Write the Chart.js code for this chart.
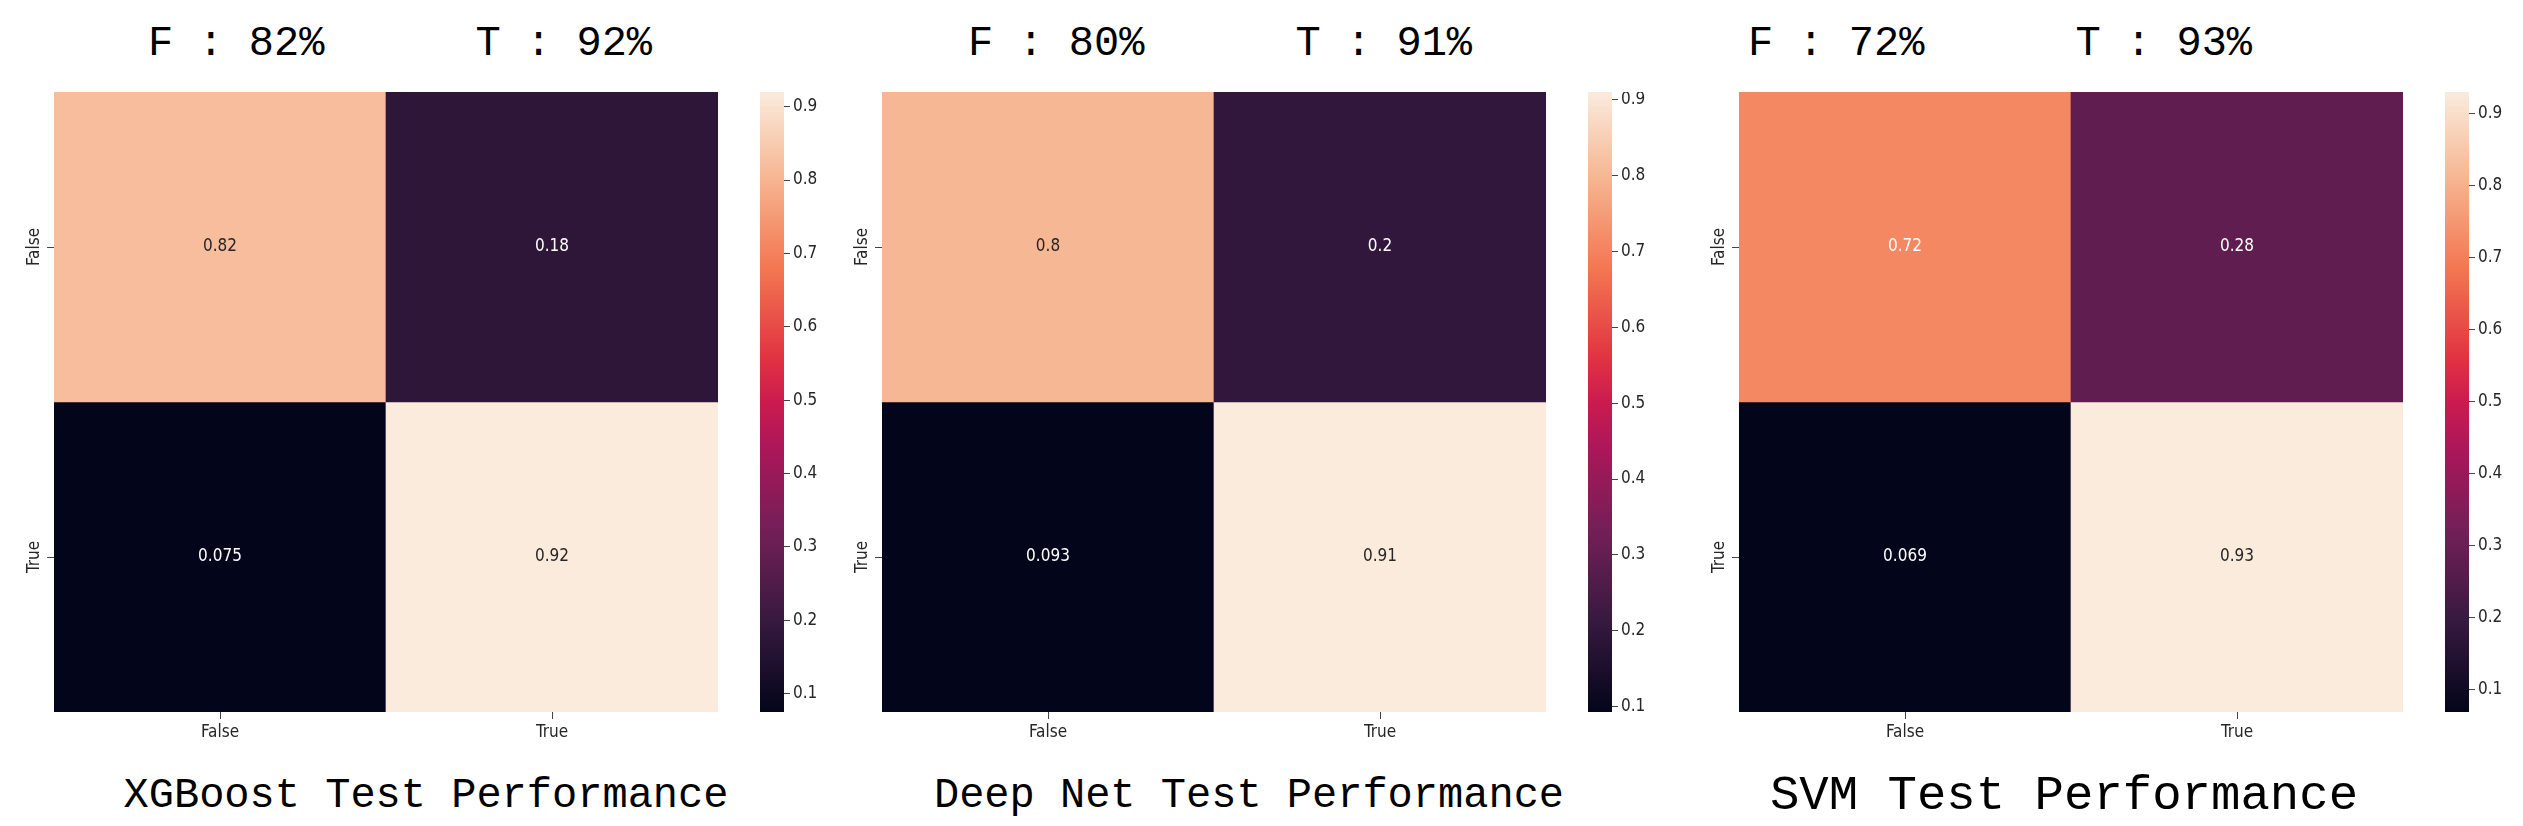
<!DOCTYPE html>
<html>
<head>
<meta charset="utf-8">
<script src="https://cdn.jsdelivr.net/npm/chart.js@4.4.1/dist/chart.umd.min.js"></script>
<style>
  body { margin: 0; background: #fff; width: 2523px; height: 826px; position: relative; overflow: hidden; }
  .box { position: absolute; }
  .title {
    position: absolute;
    font-family: "Liberation Mono", "DejaVu Sans Mono", monospace;
    font-size: 42px;
    line-height: 1;
    color: #000;
    white-space: pre;
    transform: translate(-50%, -50%);
  }
</style>
</head>
<body>
<script>
// --- Data ---
const classLabels = ['False', 'True'];
const modelNames = ['XGBoost', 'Deep Net', 'SVM'];
const xgbValues = [[0.82, 0.18], [0.075, 0.92]];
const deepNetValues = [[0.8, 0.2], [0.093, 0.91]];
const svmValues = [[0.72, 0.28], [0.069, 0.93]];
const colorbarTicks = [0.1, 0.2, 0.3, 0.4, 0.5, 0.6, 0.7, 0.8, 0.9];

// seaborn "rocket" colormap, sampled stops
const rocketStops = [
    [0.0, [3, 5, 26]],
    [0.143, [53, 25, 62]],
    [0.286, [112, 31, 87]],
    [0.429, [173, 23, 89]],
    [0.5, [203, 27, 79]],
    [0.571, [225, 51, 66]],
    [0.714, [243, 118, 81]],
    [0.857, [246, 180, 143]],
    [1.0, [250, 235, 221]]
];

// Layout of each panel (pixels)
const panelLayout = [
    { heatLeft: 54, cbLeft: 760, topCenter: 400, bottomCenter: 426, bottomSize: 42 },
    { heatLeft: 882, cbLeft: 1588, topCenter: 1220, bottomCenter: 1249, bottomSize: 42 },
    { heatLeft: 1739, cbLeft: 2445, topCenter: 2000, bottomCenter: 2064, bottomSize: 49 }
];
const heatTop = 92, heatW = 664, heatH = 620;
const yAxisW = 40, xAxisH = 50, cbW = 24, cbAxisW = 60;
const topTitleY = 44, bottomTitleY = 796;

const tickFont = { family: '"DejaVu Sans Condensed", "DejaVu Sans", sans-serif', size: 17 };
const tickColor = '#262626';

function rocketRgb(t) {
    t = Math.max(0, Math.min(1, t));
    for (let i = 1; i < rocketStops.length; i++) {
        const [p1, c1] = rocketStops[i];
        const [p0, c0] = rocketStops[i - 1];
        if (t <= p1) {
            const f = (t - p0) / (p1 - p0);
            return c0.map((c, k) => Math.round(c + (c1[k] - c) * f));
        }
    }
    return rocketStops[rocketStops.length - 1][1];
}
const rgbStr = c => `rgb(${c[0]},${c[1]},${c[2]})`;
const luminance = c => {
    const l = c.map(v => { v /= 255; return v <= 0.03928 ? v / 12.92 : Math.pow((v + 0.055) / 1.055, 2.4); });
    return 0.2126 * l[0] + 0.7152 * l[1] + 0.0722 * l[2];
};

// --- Plugins ---
// value text in the middle of each cell
const cellLabels = {
    id: 'cellLabels',
    afterDatasetsDraw(chart) {
        const ctx = chart.ctx;
        const { vmin, vmax, values } = chart.options.plugins.cellLabels;
        ctx.save();
        ctx.font = `17px ${tickFont.family}`;
        ctx.textAlign = 'center';
        ctx.textBaseline = 'middle';
        chart.data.datasets.forEach((ds, r) => {
            chart.getDatasetMeta(r).data.forEach((bar, c) => {
                const v = values[r][c];
                const col = rocketRgb((v - vmin) / (vmax - vmin));
                ctx.fillStyle = luminance(col) > 0.408 ? '#262626' : '#ffffff';
                const p = bar.getProps(['x', 'y', 'base'], true);
                ctx.fillText(String(v), p.x, (p.y + p.base) / 2);
            });
        });
        ctx.restore();
    }
};

// rotated row labels on the left axis
const rowLabels = {
    id: 'rowLabels',
    afterDraw(chart) {
        const ctx = chart.ctx;
        const y = chart.scales.y;
        ctx.save();
        ctx.font = `${tickFont.size}px ${tickFont.family}`;
        ctx.fillStyle = tickColor;
        ctx.textAlign = 'center';
        ctx.textBaseline = 'middle';
        classLabels.forEach((lab, i) => {
            ctx.save();
            ctx.translate(y.right - 19, y.getPixelForValue(i + 0.5));
            ctx.rotate(-Math.PI / 2);
            ctx.fillText(lab, 0, 0);
            ctx.restore();
        });
        ctx.restore();
    }
};

function makeCanvas(left, top, w, h) {
    const div = document.createElement('div');
    div.className = 'box';
    div.style.left = left + 'px';
    div.style.top = top + 'px';
    const cv = document.createElement('canvas');
    cv.width = w; cv.height = h;
    div.appendChild(cv);
    document.body.appendChild(div);
    return cv;
}

function addTitle(text, center, middle, size) {
    const el = document.createElement('div');
    el.className = 'title';
    el.textContent = text;
    el.style.left = center + 'px';
    el.style.top = middle + 'px';
    el.style.fontSize = size + 'px';
    document.body.appendChild(el);
}

function drawPanel(values, name, lay) {
    const flat = values.flat();
    const vmin = Math.min(...flat), vmax = Math.max(...flat);

    // Heatmap as floating bars, one dataset per row
    const heatCanvas = makeCanvas(lay.heatLeft - yAxisW, heatTop, heatW + yAxisW, heatH + xAxisH);
    new Chart(heatCanvas, {
        type: 'bar',
        data: {
            labels: classLabels,
            datasets: values.map((row, r) => ({
                data: row.map(() => [r, r + 1]),
                grouped: false,
                categoryPercentage: 1,
                barPercentage: 1,
                borderWidth: 0,
                backgroundColor: ctx => rgbStr(rocketRgb((row[ctx.dataIndex] - vmin) / (vmax - vmin)))
            }))
        },
        options: {
            responsive: false,
            animation: false,
            layout: { padding: 0 },
            plugins: {
                legend: { display: false },
                tooltip: { enabled: false },
                cellLabels: { vmin, vmax, values }
            },
            scales: {
                x: {
                    grid: { drawOnChartArea: false, offset: false, tickLength: 7, color: '#444' },
                    border: { display: false },
                    ticks: { font: tickFont, color: tickColor, padding: 3, maxRotation: 0 },
                    afterFit: s => { s.height = xAxisH; s.paddingLeft = 0; s.paddingRight = 0; }
                },
                y: {
                    min: 0, max: classLabels.length, reverse: true,
                    grid: { drawOnChartArea: false, tickLength: 7, color: '#444' },
                    border: { display: false },
                    ticks: { display: false },
                    afterBuildTicks: s => { s.ticks = classLabels.map((_, i) => ({ value: i + 0.5 })); },
                    afterFit: s => { s.width = yAxisW; s.paddingTop = 0; s.paddingBottom = 0; }
                }
            }
        },
        plugins: [cellLabels, rowLabels]
    });

    // Colorbar as a single floating bar with a gradient fill
    const cbCanvas = makeCanvas(lay.cbLeft, heatTop, cbW + cbAxisW, heatH);
    new Chart(cbCanvas, {
        type: 'bar',
        data: {
            labels: [''],
            datasets: [{
                data: [[vmin, vmax]],
                categoryPercentage: 1,
                barPercentage: 1,
                borderWidth: 0,
                backgroundColor: ctx => {
                    const chart = ctx.chart;
                    if (!chart.chartArea) return rgbStr(rocketRgb(0.5));
                    const ys = chart.scales.y;
                    const g = chart.ctx.createLinearGradient(0, ys.getPixelForValue(vmin), 0, ys.getPixelForValue(vmax));
                    rocketStops.forEach(([p, c]) => g.addColorStop(p, rgbStr(c)));
                    return g;
                }
            }]
        },
        options: {
            responsive: false,
            animation: false,
            layout: { padding: 0 },
            plugins: { legend: { display: false }, tooltip: { enabled: false } },
            scales: {
                x: { display: false },
                y: {
                    position: 'right',
                    min: vmin, max: vmax,
                    grid: { drawOnChartArea: false, tickLength: 6, color: '#444' },
                    border: { display: false },
                    ticks: { font: tickFont, color: tickColor, padding: 3, callback: v => v.toFixed(1) },
                    afterBuildTicks: s => { s.ticks = colorbarTicks.map(v => ({ value: v })); },
                    afterFit: s => { s.width = cbAxisW; s.paddingTop = 0; s.paddingBottom = 0; }
                }
            }
        }
    });

    const pct = v => Math.round(v * 100);
    addTitle(`F : ${pct(values[0][0])}%      T : ${pct(values[1][1])}%`, lay.topCenter, topTitleY, 42);
    addTitle(`${name} Test Performance`, lay.bottomCenter, bottomTitleY, lay.bottomSize);
}

drawPanel(xgbValues, modelNames[0], panelLayout[0]);
drawPanel(deepNetValues, modelNames[1], panelLayout[1]);
drawPanel(svmValues, modelNames[2], panelLayout[2]);
</script>
</body>
</html>
